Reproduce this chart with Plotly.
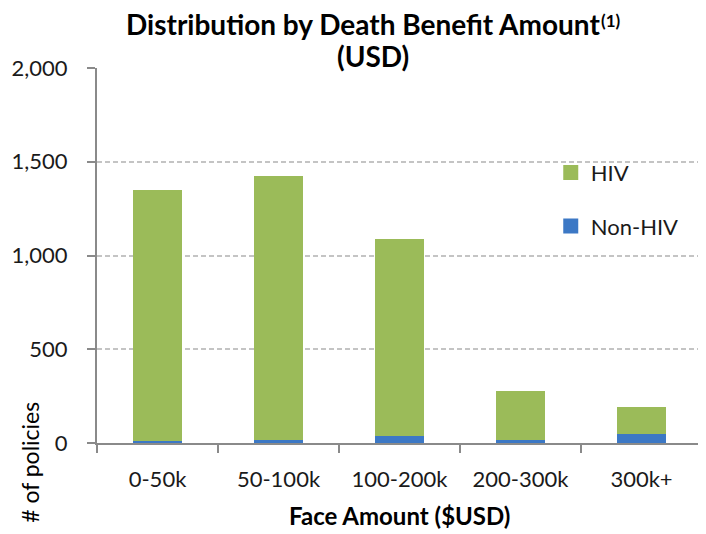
import plotly.graph_objects as go

categories = ["0-50k", "50-100k", "100-200k", "200-300k", "300k+"]
hiv = [1340, 1406, 1052, 263, 144]
non_hiv = [9, 18, 36, 14, 50]
y_ticks = [0, 500, 1000, 1500, 2000]
y_tick_labels = ["0", "500", "1,000", "1,500", "2,000"]

GREEN = "#9BBB59"
BLUE = "#3C78C5"
FONT = "Lato"
# page has an 8px body margin, so the figure is sized to fill the rest
W, H = 698, 526
L, R, T, B = 86, 4, 60, 91
PW, PH = W - L - R, H - T - B


def px(x):
    return (x - L) / PW


def py(y):
    return (H - B - y) / PH


fig = go.Figure()
fig.add_trace(go.Bar(x=categories, y=non_hiv, name="Non-HIV", marker_color=BLUE,
                     marker_line_width=0, width=0.4, showlegend=False))
fig.add_trace(go.Bar(x=categories, y=hiv, name="HIV", marker_color=GREEN,
                     marker_line_width=0, width=0.4, showlegend=False))
# legend entries with larger square swatches
fig.add_trace(go.Scatter(x=[None], y=[None], mode="markers", name="HIV",
                         marker=dict(symbol="square", size=15, color=GREEN), legendgroup="a"))
fig.add_trace(go.Scatter(x=[None], y=[None], mode="markers", name="Non-HIV",
                         marker=dict(symbol="square", size=15, color=BLUE), legendgroup="b"))

fig.update_layout(
    width=W, height=H,
    margin=dict(l=L, r=R, t=T, b=B),
    barmode="stack",
    paper_bgcolor="white", plot_bgcolor="white",
    font=dict(family=FONT, size=22, color="#1a1a1a"),
    showlegend=True,
    legend=dict(x=0.75, y=0.777, xanchor="left", yanchor="top",
                traceorder="grouped", tracegroupgap=22,
                bgcolor="rgba(0,0,0,0)", font=dict(size=22, family=FONT, color="#1a1a1a")),
    xaxis=dict(type="category", showline=True, linecolor="#8a8a8a", linewidth=2,
               ticks="outside", tickson="boundaries", ticklen=8, tickcolor="#8a8a8a",
               tickwidth=2, showgrid=False, ticklabelstandoff=16,
               tickfont=dict(size=22, family=FONT, color="#1a1a1a")),
    yaxis=dict(range=[0, 2000], tickvals=y_ticks, ticktext=y_tick_labels,
               showline=True, linecolor="#8a8a8a", linewidth=2,
               ticks="outside", ticklen=8, tickcolor="#8a8a8a", tickwidth=2,
               showgrid=True, gridcolor="#c4c4c4", griddash="5px,3px", gridwidth=1.5,
               zeroline=False, ticklabelstandoff=15,
               tickfont=dict(size=22, family=FONT, color="#1a1a1a")),
    annotations=[
        dict(text="<b>Distribution by Death Benefit Amount</b>",
             xref="paper", yref="paper", x=px(353.5), y=py(34.2), borderpad=0,
             xanchor="center", yanchor="bottom", showarrow=False,
             font=dict(size=28, family=FONT, color="#000")),
        dict(text="<b>(1)</b>",
             xref="paper", yref="paper", x=px(590), y=py(12),
             xanchor="left", yanchor="middle", showarrow=False,
             font=dict(size=17, family=FONT, color="#000")),
        dict(text="<b>(USD)</b>",
             xref="paper", yref="paper", x=px(363.5), y=py(67),
             xanchor="center", yanchor="bottom", showarrow=False, bgcolor="white",
             font=dict(size=28, family=FONT, color="#000")),
        dict(text="<b>Face Amount ($USD)</b>",
             xref="paper", yref="paper", x=px(390), y=py(524),
             xanchor="center", yanchor="bottom", showarrow=False,
             font=dict(size=24, family=FONT, color="#000")),
        dict(text="# of policies", textangle=-90,
             xref="paper", yref="paper", x=px(18), y=py(454.5),
             xanchor="center", yanchor="middle", showarrow=False,
             font=dict(size=23, family=FONT, color="#000")),
    ],
)

fig.write_html("out.html")
